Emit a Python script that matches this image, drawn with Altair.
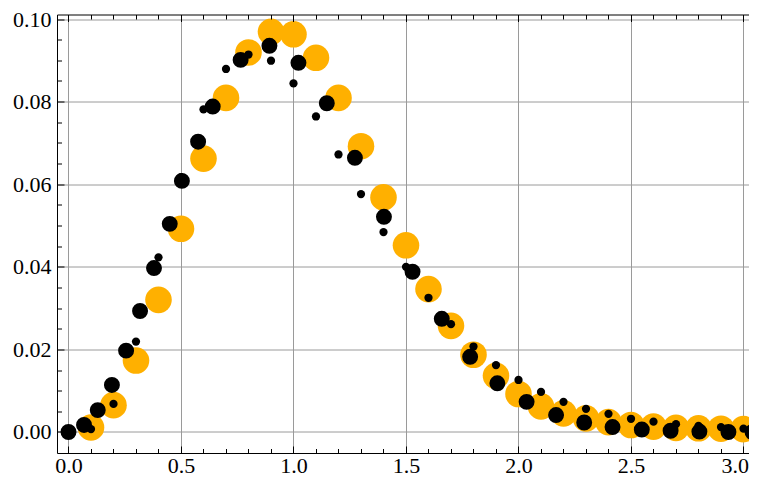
import altair as alt
import pandas as pd

# ---------------- data ----------------
orange_x = [0.1, 0.2, 0.3, 0.4, 0.5, 0.6, 0.7, 0.8, 0.9, 1.0,
            1.1, 1.2, 1.3, 1.4, 1.5, 1.6, 1.7, 1.8, 1.9, 2.0,
            2.1, 2.2, 2.3, 2.4, 2.5, 2.6, 2.7, 2.8, 2.9, 3.0]
orange_y = [0.0011, 0.0065, 0.0173, 0.0320, 0.0492, 0.0662, 0.0809, 0.0919, 0.0969, 0.0963,
            0.0906, 0.0809, 0.0692, 0.0568, 0.0452, 0.0346, 0.0257, 0.0187, 0.0136, 0.0092,
            0.0062, 0.0045, 0.0033, 0.0024, 0.0017, 0.0013, 0.0010, 0.0009, 0.0008, 0.0007]

big_x = [0.0, 0.069, 0.130, 0.193, 0.256, 0.318, 0.380, 0.450, 0.504, 0.576,
         0.641, 0.765, 0.893, 1.022, 1.148, 1.273, 1.402, 1.529, 1.659, 1.785,
         1.906, 2.036, 2.167, 2.292, 2.418, 2.548, 2.676, 2.804, 2.933, 3.04]
big_y = [0.0000, 0.0017, 0.0053, 0.0114, 0.0197, 0.0293, 0.0397, 0.0504, 0.0608, 0.0703,
         0.0788, 0.0901, 0.0935, 0.0894, 0.0796, 0.0664, 0.0521, 0.0388, 0.0274, 0.0182,
         0.0118, 0.0073, 0.0041, 0.0023, 0.0012, 0.0006, 0.0003, 0.0001, 0.0000, 0.0000]

small_x = [0.0, 0.1, 0.2, 0.3, 0.4, 0.5, 0.6, 0.7, 0.8, 0.9, 1.0,
           1.1, 1.2, 1.3, 1.4, 1.5, 1.6, 1.7, 1.8, 1.9, 2.0,
           2.1, 2.2, 2.3, 2.4, 2.5, 2.6, 2.7, 2.8, 2.9, 3.0]
small_y = [0.0000, 0.0007, 0.0068, 0.0219, 0.0423, 0.0617, 0.0781, 0.0879, 0.0914, 0.0899, 0.0844,
           0.0764, 0.0672, 0.0576, 0.0484, 0.0400, 0.0325, 0.0261, 0.0207, 0.0162, 0.0126,
           0.0097, 0.0073, 0.0056, 0.0044, 0.0032, 0.0025, 0.0019, 0.0015, 0.0012, 0.0008]

x_major = [0.0, 0.5, 1.0, 1.5, 2.0, 2.5, 3.0]
x_minor = [i / 10 for i in range(0, 31) if i % 5 != 0]
y_major = [0.0, 0.02, 0.04, 0.06, 0.08, 0.10]
y_minor = [i * 0.005 for i in range(0, 21) if i % 4 != 0]

orange_df = pd.DataFrame({"x": orange_x, "y": orange_y})
big_df = pd.DataFrame({"x": big_x, "y": big_y})
small_df = pd.DataFrame({"x": small_x, "y": small_y})

# ---------------- styling ----------------
FONT = "Liberation Serif, Times New Roman, serif"
FS = 22
PX_PER_X = 225.0
W, H = 692, 438.5
X0 = -0.0511
xs = alt.Scale(domain=[X0, X0 + W / PX_PER_X], nice=False, zero=False)
ys = alt.Scale(domain=[-0.005085, 0.10109], nice=False, zero=False)

MAJ, MIN = 7, 4.5
GRID = "#9a9a9a"


def tick_axis(orient, values, size):
    return alt.Axis(orient=orient, values=values, offset=-size, ticks=True, tickSize=size,
                    tickColor="black", tickWidth=1, labels=False, domain=False, grid=False,
                    title=None, zindex=1)


x_label_axis = alt.Axis(orient="bottom", values=x_major, format=".1f", labelFont=FONT,
                        labelFontSize=FS, labelColor="black", labelPadding=2, ticks=False,
                        tickSize=0, domain=True, domainColor="black", domainWidth=1,
                        grid=True, gridColor=GRID, gridWidth=1, title=None,
                        labelFlush=6, labelFlushOffset=5, labelOverlap=False, zindex=0)
y_label_axis = alt.Axis(orient="left", values=y_major, format=".2f", labelFont=FONT,
                        labelFontSize=FS, labelColor="black", labelPadding=6, ticks=False,
                        tickSize=0, domain=True, domainColor="black", domainWidth=1,
                        grid=True, gridColor=GRID, gridWidth=1, title=None,
                        labelFlush=False, labelOverlap=False, zindex=0)
top_domain_axis = alt.Axis(orient="top", values=x_major, ticks=False, tickSize=0, labels=False,
                           domain=True, domainColor="black", domainWidth=1, grid=False,
                           title=None, zindex=1)

orange = alt.Chart(orange_df).mark_circle(size=707, color="#FFB000", opacity=1).encode(
    x=alt.X("x:Q", scale=xs, axis=x_label_axis),
    y=alt.Y("y:Q", scale=ys, axis=y_label_axis),
)
big = alt.Chart(big_df).mark_circle(size=254, color="black", opacity=1).encode(
    x=alt.X("x:Q", scale=xs, axis=tick_axis("bottom", x_major, MAJ)),
    y=alt.Y("y:Q", scale=ys, axis=tick_axis("left", y_major, MAJ)),
)
small = alt.Chart(small_df).mark_circle(size=68, color="black", opacity=1).encode(
    x=alt.X("x:Q", scale=xs, axis=tick_axis("bottom", x_minor, MIN)),
    y=alt.Y("y:Q", scale=ys, axis=tick_axis("left", y_minor, MIN)),
)
top_major = alt.Chart(orange_df).mark_circle(opacity=0).encode(
    x=alt.X("x:Q", scale=xs, axis=tick_axis("top", x_major, MAJ)),
    y=alt.Y("y:Q", scale=ys, axis=None),
)
top_minor = alt.Chart(orange_df).mark_circle(opacity=0).encode(
    x=alt.X("x:Q", scale=xs, axis=tick_axis("top", x_minor, MIN)),
    y=alt.Y("y:Q", scale=ys, axis=None),
)
top_dom = alt.Chart(orange_df).mark_circle(opacity=0).encode(
    x=alt.X("x:Q", scale=xs, axis=top_domain_axis),
    y=alt.Y("y:Q", scale=ys, axis=None),
)

chart = (
    alt.layer(orange, big, small, top_major, top_minor, top_dom)
    .resolve_axis(x="independent", y="independent")
    .properties(
        width=W, height=H,
        autosize=alt.AutoSizeParams(type="none"),
        padding={"left": 49, "top": 6.5, "right": 0, "bottom": 21},
        background="white",
    )
    .configure_view(stroke=None)
    .configure_axis(labelFont=FONT)
)

chart.save("out.html", embed_options={"renderer": "svg", "actions": False})
